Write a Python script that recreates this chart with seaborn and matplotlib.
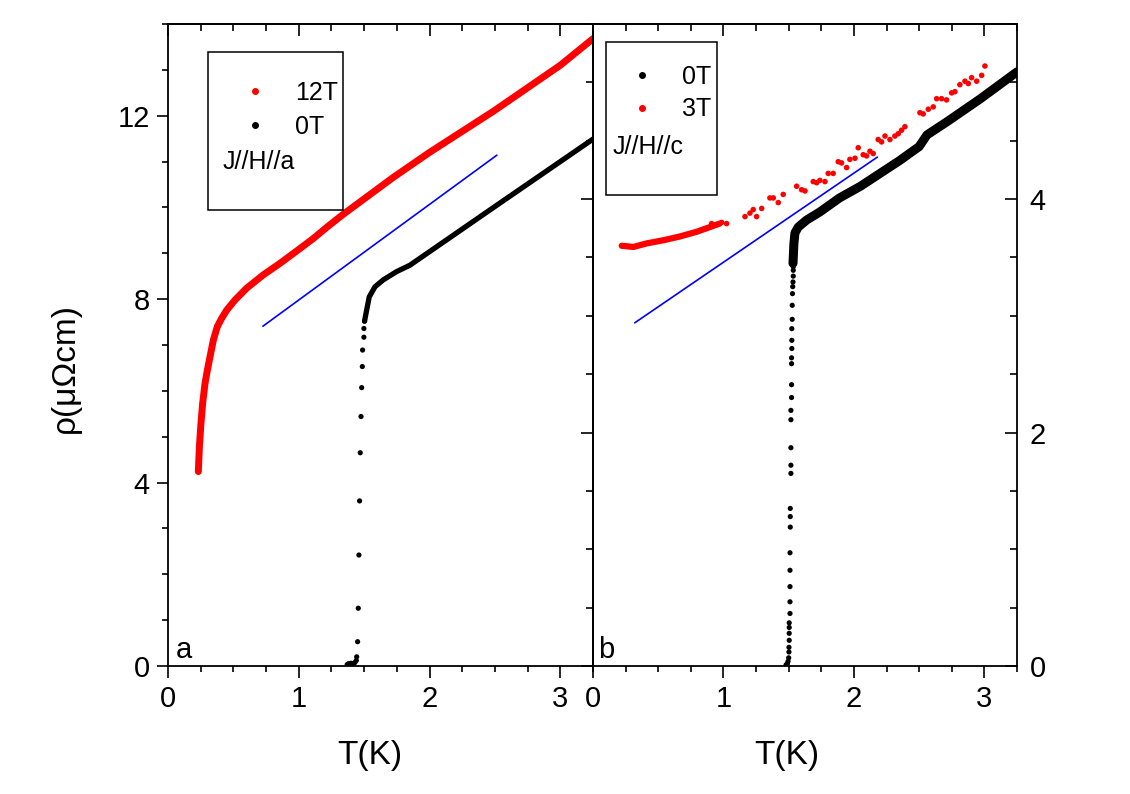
import matplotlib
matplotlib.use('Agg')
import matplotlib.pyplot as plt
import seaborn as sns
from matplotlib.ticker import MultipleLocator
from matplotlib.lines import Line2D
from matplotlib.patches import Rectangle

# ---- panel a: J//H//a ----
t_12T_a = [0.232, 0.240, 0.252, 0.265, 0.283, 0.301, 0.321, 0.347, 0.377, 0.41, 0.449,
           0.512, 0.602, 0.729, 0.856, 0.984, 1.11, 1.22, 1.34, 1.72, 2.0, 2.49, 3.0, 3.25]
rho_12T_a = [4.24, 4.78, 5.29, 5.73, 6.16, 6.45, 6.74, 7.11, 7.40, 7.58, 7.76,
             7.98, 8.24, 8.53, 8.78, 9.05, 9.32, 9.58, 9.85, 10.65, 11.2, 12.1, 13.1, 13.68]

# sparse points in the transition
t_0T_a_pts = [1.37, 1.38, 1.39, 1.40, 1.41, 1.42, 1.43, 1.44, 1.443, 1.450, 1.455, 1.460,
              1.465, 1.470, 1.476, 1.481, 1.486, 1.488, 1.498, 1.498, 1.503]
rho_0T_a_pts = [0.03, 0.05, 0.04, 0.06, 0.04, 0.05, 0.08, 0.12, 0.20, 0.53, 1.26, 2.42,
                3.60, 4.65, 5.44, 6.07, 6.53, 6.89, 7.17, 7.36, 7.52]
# dense normal-state part
t_0T_a = [1.503, 1.519, 1.539, 1.583, 1.646, 1.748, 1.85, 2.5, 3.0, 3.25]
rho_0T_a = [7.52, 7.76, 8.05, 8.27, 8.42, 8.60, 8.74, 10.02, 11.0, 11.49]

guide_t_a = [0.726, 2.515]
guide_rho_a = [7.41, 11.14]

# ---- panel b: J//H//c ----
t_0T_c_pts = [1.48, 1.49, 1.495, 1.50, 1.502, 1.502, 1.504, 1.504, 1.504, 1.504, 1.51, 1.51,
              1.51, 1.51, 1.51, 1.512, 1.512, 1.512, 1.517, 1.517, 1.517, 1.517, 1.517, 1.522,
              1.522, 1.522, 1.522, 1.524, 1.524, 1.524, 1.527, 1.527, 1.529, 1.531, 1.533,
              1.535, 1.535, 1.535]
rho_0T_c_pts = [0.01, 0.02, 0.04, 0.07, 0.12, 0.16, 0.22, 0.28, 0.33, 0.37, 0.45, 0.55,
                0.68, 0.82, 0.97, 1.19, 1.28, 1.35, 1.65, 1.72, 1.87, 2.11, 2.19, 2.30,
                2.41, 2.59, 2.64, 2.72, 2.79, 2.89, 2.97, 3.09, 3.19, 3.25, 3.29,
                3.34, 3.39, 3.42]
t_0T_c = [1.533, 1.54, 1.548, 1.573, 1.637, 1.739, 1.89, 2.05, 2.2, 2.35, 2.5, 2.56, 2.71,
          2.97, 3.25]
rho_0T_c = [3.45, 3.62, 3.71, 3.76, 3.82, 3.89, 4.01, 4.11, 4.22, 4.33, 4.45, 4.55, 4.66,
            4.86, 5.09]

t_3T_c = [0.22, 0.31, 0.41, 0.55, 0.667, 0.795, 0.92, 0.97]
rho_3T_c = [3.60, 3.59, 3.62, 3.65, 3.68, 3.72, 3.77, 3.79]
t_3T_c_pts = [0.909, 0.947, 0.986, 1.024, 1.165, 1.203, 1.228, 1.254, 1.293, 1.356, 1.382,
              1.420, 1.458, 1.561, 1.599, 1.625, 1.688, 1.714, 1.739, 1.778, 1.803, 1.841,
              1.880, 1.905, 1.944, 1.969, 2.008, 2.033, 2.071, 2.097, 2.123, 2.148, 2.186,
              2.212, 2.238, 2.276, 2.314, 2.340, 2.365, 2.391, 2.506, 2.531, 2.570, 2.608,
              2.634, 2.672, 2.710, 2.749, 2.774, 2.812, 2.851, 2.877, 2.902, 2.941, 2.979,
              3.004]
rho_3T_c_pts = [3.79, 3.78, 3.80, 3.79, 3.85, 3.88, 3.91, 3.85, 3.92, 4.01, 4.01,
                3.97, 4.04, 4.11, 4.08, 4.07, 4.15, 4.14, 4.16, 4.15, 4.22, 4.22,
                4.32, 4.31, 4.27, 4.34, 4.35, 4.44, 4.38, 4.37, 4.41, 4.39, 4.51,
                4.49, 4.54, 4.51, 4.54, 4.56, 4.59, 4.62, 4.74, 4.73, 4.77, 4.79,
                4.86, 4.86, 4.85, 4.91, 4.92, 4.98, 5.01, 4.99, 5.04, 5.01, 5.06,
                5.14]

guide_t_c = [0.32, 2.18]
guide_rho_c = [2.94, 4.36]

sns.set_theme(style='ticks')
plt.rcParams['font.family'] = ['Liberation Sans', 'DejaVu Sans']
plt.rcParams['axes.linewidth'] = 1.3
for key in ('text.color', 'axes.labelcolor', 'xtick.color', 'ytick.color', 'axes.edgecolor'):
    plt.rcParams[key] = 'black'

fig = plt.figure(figsize=(11.3, 7.94), dpi=100)
bottom, height = 1 - 666 / 794, 642 / 794
ax1 = fig.add_axes([168 / 1130, bottom, 425 / 1130, height])
ax2 = fig.add_axes([593 / 1130, bottom, 424 / 1130, height])

RED = '#ff0000'
BLUE = '#0000ff'

# panel a
sns.lineplot(x=t_12T_a, y=rho_12T_a, ax=ax1, color=RED, lw=5, sort=False, estimator=None)
sns.scatterplot(x=t_12T_a[:12], y=rho_12T_a[:12], ax=ax1, color=RED, s=18, edgecolor='none')
sns.scatterplot(x=t_0T_a_pts, y=rho_0T_a_pts, ax=ax1, color='black', s=14, edgecolor='none')
sns.lineplot(x=t_0T_a, y=rho_0T_a, ax=ax1, color='black', lw=3.8, sort=False, estimator=None)
sns.lineplot(x=guide_t_a, y=guide_rho_a, ax=ax1, color=BLUE, lw=1.2)

# panel b
sns.lineplot(x=t_3T_c, y=rho_3T_c, ax=ax2, color=RED, lw=4.5, sort=False, estimator=None)
sns.scatterplot(x=t_3T_c_pts, y=rho_3T_c_pts, ax=ax2, color=RED, s=16, edgecolor='none')
sns.scatterplot(x=t_0T_c_pts, y=rho_0T_c_pts, ax=ax2, color='black', s=14, edgecolor='none')
sns.lineplot(x=t_0T_c, y=rho_0T_c, ax=ax2, color='black', lw=6.5, sort=False, estimator=None)
sns.lineplot(x=guide_t_c, y=guide_rho_c, ax=ax2, color=BLUE, lw=1.2)


def style_x(ax):
    ax.set_xlim(0, 3.25)
    ax.xaxis.set_major_locator(MultipleLocator(1))
    ax.xaxis.set_minor_locator(MultipleLocator(0.25))
    ax.tick_params(axis='x', which='major', direction='out', length=8.5, width=1.2,
                   labelsize=21, pad=5, top=False)
    ax.tick_params(axis='x', which='minor', direction='out', length=4, width=1.2, top=False)
    top = ax.secondary_xaxis('top')
    top.xaxis.set_major_locator(MultipleLocator(1))
    top.xaxis.set_minor_locator(MultipleLocator(0.25))
    top.tick_params(axis='x', which='major', direction='in', length=8.5, width=1.2, labeltop=False)
    top.tick_params(axis='x', which='minor', direction='in', length=5, width=1.2)
    ax.set_xlabel('T(K)', fontsize=24)


style_x(ax1)
style_x(ax2)
ax1.xaxis.set_label_coords(0.475, -0.115)
ax2.xaxis.set_label_coords(0.458, -0.115)

ax1.set_ylim(0, 14)
ax1.yaxis.set_major_locator(MultipleLocator(4))
ax1.yaxis.set_minor_locator(MultipleLocator(1))
ax1.tick_params(axis='y', which='major', direction='out', length=8, width=1.2,
                labelsize=21, pad=5, right=False)
ax1.tick_params(axis='y', which='minor', direction='out', length=4, width=1.2, right=False)
ax1.set_ylabel('ρ(μΩcm)', fontsize=24)
ax1.yaxis.set_label_coords(-0.206, 0.464)

ax2.set_ylim(0, 5.5)
ax2.yaxis.tick_right()
ax2.yaxis.set_major_locator(MultipleLocator(2))
ax2.yaxis.set_minor_locator(MultipleLocator(0.5))
ax2.tick_params(axis='y', which='major', direction='in', length=9, width=1.2,
                labelsize=21, pad=9, left=False, right=True, labelleft=False, labelright=True)
ax2.tick_params(axis='y', which='minor', direction='in', length=5, width=1.2, left=False)
ax2.set_ylabel('')
lsec = ax2.secondary_yaxis('left')
lsec.yaxis.set_major_locator(MultipleLocator(2))
lsec.yaxis.set_minor_locator(MultipleLocator(0.5))
lsec.tick_params(axis='y', which='major', direction='out', length=9, width=1.2, labelleft=False)
lsec.tick_params(axis='y', which='minor', direction='out', length=5, width=1.2)

for ax in (ax1, ax2):
    for sp in ax.spines.values():
        sp.set_color('black')
        sp.set_linewidth(1.3)


def dot(c):
    return Line2D([], [], marker='o', ls='none', color=c, markersize=4)


# legend boxes
ax1.add_patch(Rectangle((0.094, 0.710), 0.318, 0.246, transform=ax1.transAxes,
                        fill=False, ec='black', lw=1.1, zorder=5))
ax1.legend([dot(RED), dot('black')], ['12T', '0T'], loc='upper left',
           bbox_to_anchor=(0.176, 0.911), frameon=False, fontsize=18, handlelength=1.0,
           handletextpad=1.1, labelspacing=0.4, borderpad=0, borderaxespad=0)
ax1.text(0.129, 0.785, 'J//H//a', transform=ax1.transAxes, fontsize=18, va='center', ha='left')

ax2.add_patch(Rectangle((0.031, 0.734), 0.261, 0.238, transform=ax2.transAxes,
                        fill=False, ec='black', lw=1.1, zorder=5))
ax2.legend([dot('black'), dot(RED)], ['0T', '3T'], loc='upper left',
           bbox_to_anchor=(0.087, 0.936), frameon=False, fontsize=18, handlelength=1.0,
           handletextpad=1.1, labelspacing=0.33, borderpad=0, borderaxespad=0)
ax2.text(0.045, 0.808, 'J//H//c', transform=ax2.transAxes, fontsize=18, va='center', ha='left')

ax1.text(0.019, 0.012, 'a', transform=ax1.transAxes, fontsize=21, va='baseline')
ax2.text(0.012, 0.012, 'b', transform=ax2.transAxes, fontsize=21, va='baseline')

fig.savefig('out.png', dpi=100)
